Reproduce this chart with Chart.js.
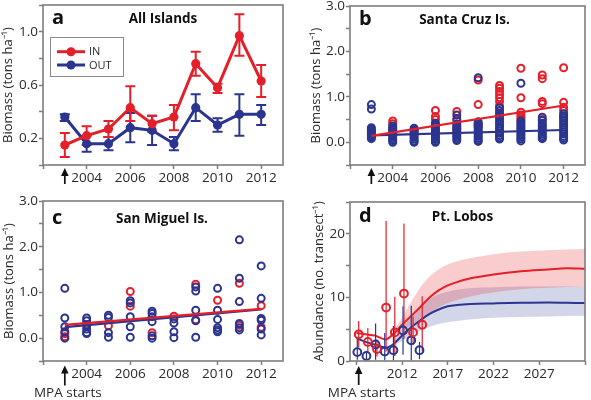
<!DOCTYPE html>
<html><head><meta charset="utf-8">
<script src="https://cdn.jsdelivr.net/npm/chart.js@4"></script>
<style>
html,body{margin:0;padding:0;background:#fff;}
#wrap{position:relative;width:591px;height:400px;overflow:hidden;background:#fff;}
canvas{position:absolute;}
</style></head><body>
<div id="wrap">
<canvas id="ca" width="295" height="195" style="left:0;top:0;width:295px;height:195px"></canvas>
<canvas id="cb" width="296" height="195" style="left:295px;top:0;width:296px;height:195px"></canvas>
<canvas id="cc" width="295" height="205" style="left:0;top:195px;width:295px;height:205px"></canvas>
<canvas id="cd" width="296" height="205" style="left:295px;top:195px;width:296px;height:205px"></canvas>
</div>
<script>
// ---------- DATA ----------
// Panel a: All Islands (mean ± error)
const yearsA = [2003, 2004, 2005, 2006, 2007, 2008, 2009, 2010, 2011, 2012];
const inA     = [0.15, 0.22, 0.27, 0.43, 0.31, 0.36, 0.76, 0.58, 0.97, 0.63];
const inALow  = [0.06, 0.15, 0.21, 0.33, 0.25, 0.26, 0.67, 0.54, 0.82, 0.51];
const inAHigh = [0.24, 0.29, 0.33, 0.59, 0.37, 0.45, 0.85, 0.61, 1.13, 0.75];
const outA     = [0.36, 0.16, 0.16, 0.28, 0.26, 0.16, 0.43, 0.30, 0.38, 0.38];
const outALow  = [0.33, 0.10, 0.11, 0.17, 0.15, 0.11, 0.33, 0.25, 0.22, 0.30];
const outAHigh = [0.38, 0.22, 0.21, 0.39, 0.37, 0.21, 0.53, 0.35, 0.53, 0.45];

// Panels b, c: survey years
const surveyYears = [2003, 2004, 2005, 2006, 2007, 2008, 2009, 2010, 2011, 2012];
// Panel b: Santa Cruz Is. site values per year
const scIn = [
  [0.22, 0.15],
  [0.47, 0.41, 0.30],
  [0.26, 0.20],
  [0.70, 0.57, 0.50, 0.40],
  [0.68, 0.48, 0.30],
  [1.37, 0.83, 0.40, 0.35],
  [1.25, 1.19, 1.12, 1.05, 0.98, 0.90, 0.80],
  [1.63, 0.98, 0.66, 0.60, 0.55, 0.50],
  [1.48, 1.40, 0.90, 0.85, 0.50],
  [1.64, 0.88, 0.77, 0.70, 0.55]
];
const scOut = [
  [0.83, 0.73, 0.32, 0.29, 0.26, 0.23, 0.20, 0.17, 0.14, 0.11, 0.08],
  [0.36, 0.32, 0.28, 0.24, 0.20, 0.16, 0.12, 0.08, 0.04, 0.00],
  [0.31, 0.27, 0.23, 0.19, 0.15, 0.11, 0.07, 0.03, 0.00],
  [0.42, 0.38, 0.34, 0.30, 0.26, 0.22, 0.18, 0.14, 0.10, 0.06, 0.02, 0.00],
  [0.60, 0.52, 0.40, 0.36, 0.32, 0.28, 0.24, 0.20, 0.16, 0.12, 0.08, 0.04],
  [1.42, 0.45, 0.41, 0.37, 0.33, 0.29, 0.25, 0.21, 0.17, 0.13, 0.09, 0.05, 0.02],
  [0.76, 0.70, 0.64, 0.58, 0.52, 0.46, 0.40, 0.35, 0.30, 0.25, 0.20, 0.15, 0.10, 0.07],
  [1.30, 0.47, 0.43, 0.39, 0.35, 0.31, 0.27, 0.23, 0.19, 0.15, 0.11, 0.07, 0.03],
  [0.55, 0.48, 0.42, 0.38, 0.34, 0.30, 0.26, 0.22, 0.18, 0.14, 0.10, 0.08],
  [0.63, 0.58, 0.53, 0.48, 0.43, 0.38, 0.33, 0.28, 0.23, 0.18, 0.13, 0.09, 0.05]
];
const fitYears = [2003, 2012];
const scInFit = [0.14, 0.81];
const scOutFit = [0.15, 0.27];

// Panel c: San Miguel Is.
const smIn = [
  [0.10, 0.03], [0.30], [0.27], [1.02, 0.70], [0.12],
  [0.48], [1.18, 0.40], [0.83], [1.20, 0.28], [0.71, 0.24]
];
const smOut = [
  [1.09, 0.44, 0.25, 0.14, 0.00],
  [0.44, 0.38, 0.28, 0.20, 0.12, 0.10],
  [0.50, 0.45, 0.12, 0.02],
  [0.82, 0.77, 0.47, 0.25, 0.02],
  [0.59, 0.54, 0.47, 0.36, 0.05, 0.00],
  [0.42, 0.33, 0.14, 0.01],
  [1.12, 1.03, 0.61, 0.38, 0.02],
  [1.09, 0.61, 0.41, 0.23, 0.18, 0.14],
  [2.15, 1.31, 0.80, 0.32, 0.23, 0.18],
  [1.58, 0.87, 0.43, 0.39, 0.20, 0.07]
];
const smInFit = [0.29, 0.64];
const smOutFit = [0.24, 0.63];

// Panel d: Pt. Lobos abundance
const lobosInYears  = [2007.25, 2008.25, 2009.25, 2010.25, 2011.2, 2012.2, 2013.2, 2014.2];
const lobosIn       = [4.2, 3.0, 1.9, 8.4, 4.5, 10.6, 4.5, 5.7];
const lobosInLow    = [2.2, 1.3, 0.7, 1.5, 0.8, 3.5, 2.5, 1.5];
const lobosInHigh   = [6.3, 5.2, 3.4, 22.0, 10.1, 21.6, 7.0, 10.2];
const lobosOutYears = [2007.1, 2008.1, 2009.1, 2010.1, 2011.05, 2012.1, 2013.0, 2013.9];
const lobosOut      = [1.4, 0.8, 2.6, 1.5, 1.7, 4.8, 3.25, 1.7];
const lobosOutLow   = [0.2, 0.2, 0.2, 0.1, 0.1, 1.0, 0.1, 0.3];
const lobosOutHigh  = [3.6, 1.6, 5.9, 4.4, 5.5, 8.6, 8.7, 3.0];
const modelYears = [2007, 2008, 2009, 2010.2, 2011, 2012, 2013, 2014, 2015, 2016, 2017, 2018, 2019.5, 2022, 2025, 2028, 2030, 2032];
const modelIn    = [4.4, 4.2, 4.0, 3.4, 4.2, 5.7, 7.1, 8.5, 10.0, 11.1, 11.9, 12.4, 13.0, 13.6, 14.1, 14.4, 14.6, 14.5];
const modelOut   = [3.6, 3.0, 2.6, 2.1, 2.6, 4.0, 5.3, 6.4, 7.4, 8.1, 8.6, 8.8, 8.95, 9.05, 9.15, 9.2, 9.15, 9.1];
const bandYears  = [2011, 2012, 2013, 2014, 2015, 2016, 2017, 2018, 2020, 2022, 2025, 2028, 2032];
const bandInHigh = [4.6, 6.8, 9.3, 11.6, 13.3, 14.4, 15.2, 15.7, 16.3, 16.8, 17.2, 17.4, 17.6];
const bandInLow  = [3.8, 4.8, 5.6, 6.6, 7.6, 8.4, 9.1, 9.6, 10.3, 10.8, 11.3, 11.5, 11.7];
const bandOutHigh= [3.0, 5.0, 7.0, 8.7, 9.8, 10.5, 10.9, 11.2, 11.5, 11.6, 11.7, 11.7, 11.7];
const bandOutLow = [2.2, 3.2, 4.0, 4.8, 5.4, 5.8, 6.1, 6.3, 6.6, 6.8, 6.9, 7.0, 7.1];

// Ticks
const ticksXab = [2002, 2004, 2006, 2008, 2010, 2012];
const labelsXab = [2004, 2006, 2008, 2010, 2012];
const ticksYa = [0, 0.2, 0.4, 0.6, 0.8, 1.0, 1.2];
const labelsYa = [0.2, 0.6, 1.0];
const ticksYbc = [-0.5, 0, 0.5, 1.0, 1.5, 2.0, 2.5, 3.0];
const labelsYbc = [0, 1, 2, 3];
const ticksXd = [2007, 2012, 2017, 2022, 2027, 2032];
const labelsXd = [2012, 2017, 2022, 2027];
const ticksYd = [0, 5, 10, 15, 20, 25];
const labelsYd = [0, 10, 20];
const mpaStartIslands = 2003;
const mpaStartLobos = 2007.25;

// ---------- STYLE ----------
const F = "'Open Sans', 'Liberation Sans', sans-serif";
const RED = '#e3202a';
const BLUE = '#2b3590';
const FRAME = '#7d7d7d';
const TXT = '#2a2a2a';

const xy = (xs, ys) => xs.map((x, i) => ({x, y: ys[i]}));
const flat = (years, nested) => years.flatMap((yr, i) => nested[i].map(v => ({x: yr, y: v})));
const near = (arr, v) => arr.some(a => Math.abs(a - v) < 1e-6);

function makeOptions(o) {
  return {
    responsive: false,
    animation: false,
    devicePixelRatio: window.devicePixelRatio || 1,
    layout: {padding: o.padding},
    plugins: {legend: {display: false}, tooltip: {enabled: false}, title: {display: false}},
    scales: {
      x: {
        type: 'linear', min: o.xMin, max: o.xMax,
        afterBuildTicks: s => { s.ticks = o.xTicks.map(v => ({value: v})); },
        afterFit: s => { s.height = o.xHeight; s.paddingLeft = 0; s.paddingRight = 0; },
        grid: {display: true, drawOnChartArea: false, drawTicks: true, tickLength: 4, tickColor: FRAME, tickWidth: 1.5},
        border: {display: false},
        ticks: {autoSkip: false, maxRotation: 0, padding: 1, color: TXT, font: {family: F, size: 13.5},
                callback: v => near(o.xLabels, v) ? String(Math.round(v)) : ''}
      },
      y: {
        type: 'linear', min: o.yMin, max: o.yMax,
        afterBuildTicks: s => { s.ticks = o.yTicks.map(v => ({value: v})); },
        afterFit: s => { s.width = o.yWidth; s.paddingTop = 0; s.paddingBottom = 0; },
        grid: {display: true, drawOnChartArea: false, drawTicks: true, tickLength: 4, tickColor: FRAME, tickWidth: 1.5},
        border: {display: false},
        title: {display: true, text: o.yTitle, color: TXT, font: {family: F, size: 13}, padding: 0},
        ticks: {autoSkip: false, padding: 1, color: TXT, font: {family: F, size: 13.5},
                callback: v => near(o.yLabels, v) ? v.toFixed(o.yDec) : ''}
      }
    }
  };
}

function framePlugin() {
  return {
    id: 'frame',
    afterDraw(chart) {
      const a = chart.chartArea, ctx = chart.ctx;
      ctx.save();
      ctx.strokeStyle = FRAME; ctx.lineWidth = 1.6;
      ctx.strokeRect(a.left, a.top, a.right - a.left, a.bottom - a.top);
      ctx.restore();
    }
  };
}

function labelPlugin(letter, title, dy, titleDx) {
  return {
    id: 'panelLabel',
    afterDraw(chart) {
      const a = chart.chartArea, ctx = chart.ctx;
      ctx.save();
      ctx.fillStyle = '#111';
      ctx.textBaseline = 'middle';
      ctx.textAlign = 'left';
      ctx.font = 'bold 20px ' + F;
      ctx.fillText(letter, a.left + 9, a.top + dy - 1);
      ctx.textAlign = 'center';
      ctx.font = 'bold 13.5px ' + F;
      ctx.fillText(title, (a.left + a.right) / 2 + titleDx, a.top + dy);
      ctx.restore();
    }
  };
}

function arrowPlugin(xVal, top, len, text) {
  return {
    id: 'mpaArrow',
    afterDraw(chart) {
      const ctx = chart.ctx, x = chart.scales.x.getPixelForValue(xVal), b = chart.chartArea.bottom;
      ctx.save();
      ctx.strokeStyle = '#111'; ctx.fillStyle = '#111'; ctx.lineWidth = 1.7;
      ctx.beginPath(); ctx.moveTo(x, b + top + 5); ctx.lineTo(x, b + top + len); ctx.stroke();
      ctx.beginPath(); ctx.moveTo(x, b + top); ctx.lineTo(x - 3.8, b + top + 8); ctx.lineTo(x + 3.8, b + top + 8); ctx.closePath(); ctx.fill();
      if (text) {
        ctx.font = '13.5px ' + F; ctx.textAlign = 'center'; ctx.textBaseline = 'middle'; ctx.fillStyle = TXT;
        ctx.fillText(text, x + 3, b + 32.5);
      }
      ctx.restore();
    }
  };
}

function errorBarPlugin(bars, beforeIndex) {
  return {
    id: 'errorBars',
    beforeDatasetDraw(chart, args) {
      if (args.index !== beforeIndex) return;
      const ctx = chart.ctx, sx = chart.scales.x, sy = chart.scales.y;
      ctx.save();
      bars.forEach(b => {
        ctx.strokeStyle = b.color; ctx.lineWidth = b.width;
        b.xs.forEach((xv, i) => {
          const x = sx.getPixelForValue(xv), y1 = sy.getPixelForValue(b.lo[i]), y2 = sy.getPixelForValue(b.hi[i]);
          ctx.beginPath(); ctx.moveTo(x, y1); ctx.lineTo(x, y2);
          if (b.cap) { ctx.moveTo(x - b.cap, y1); ctx.lineTo(x + b.cap, y1); ctx.moveTo(x - b.cap, y2); ctx.lineTo(x + b.cap, y2); }
          ctx.stroke();
        });
      });
      ctx.restore();
    }
  };
}

function legendPlugin() {
  return {
    id: 'insetLegend',
    afterDraw(chart) {
      const a = chart.chartArea, ctx = chart.ctx;
      const bx = a.left + 7, by = a.top + 32, bw = 73, bh = 39;
      ctx.save();
      ctx.fillStyle = '#fff'; ctx.fillRect(bx, by, bw, bh);
      ctx.strokeStyle = '#8a8a8a'; ctx.lineWidth = 1; ctx.strokeRect(bx + 0.5, by + 0.5, bw, bh);
      const items = chart.data.datasets.map(d => ({label: d.label, color: d.borderColor}));
      const rows = [14.7, 28];
      ['IN', 'OUT'].forEach((lab, k) => {
        const it = items.find(i => i.label === lab);
        const y = by + rows[k];
        ctx.strokeStyle = it.color; ctx.lineWidth = 3;
        ctx.beginPath(); ctx.moveTo(bx + 7, y); ctx.lineTo(bx + 35, y); ctx.stroke();
        ctx.fillStyle = it.color; ctx.beginPath(); ctx.arc(bx + 21, y, 4.5, 0, Math.PI * 2); ctx.fill();
        ctx.fillStyle = TXT; ctx.font = '11px ' + F; ctx.textAlign = 'left'; ctx.textBaseline = 'middle';
        ctx.fillText(it.label, bx + 39, y + 0.5);
      });
      ctx.restore();
    }
  };
}

// ---------- PANEL A ----------
new Chart(document.getElementById('ca'), {
  type: 'line',
  data: {
    datasets: [
      {label: 'IN', data: xy(yearsA, inA), borderColor: RED, backgroundColor: RED, borderWidth: 3,
       pointRadius: 4.6, pointBackgroundColor: RED, pointBorderWidth: 0, tension: 0, order: 0},
      {label: 'OUT', data: xy(yearsA, outA), borderColor: BLUE, backgroundColor: BLUE, borderWidth: 3,
       pointRadius: 4.6, pointBackgroundColor: BLUE, pointBorderWidth: 0, tension: 0, order: 1}
    ]
  },
  options: makeOptions({padding: {top: 5, right: 12, left: 0, bottom: 0},
    xMin: 2002, xMax: 2013, xTicks: ticksXab, xLabels: labelsXab, xHeight: 30,
    yMin: 0, yMax: 1.2, yTicks: ticksYa, yLabels: labelsYa, yDec: 1, yWidth: 43,
    yTitle: 'Biomass (tons ha⁻¹)'}),
  plugins: [
    errorBarPlugin([
      {xs: yearsA, lo: outALow, hi: outAHigh, color: BLUE, width: 2, cap: 5},
      {xs: yearsA, lo: inALow, hi: inAHigh, color: RED, width: 2, cap: 5}
    ], 1),
    framePlugin(), labelPlugin('a', 'All Islands', 14, 0), legendPlugin(),
    arrowPlugin(mpaStartIslands, 3, 16, null)
  ]
});

// ---------- PANELS B, C ----------
function scatterPanel(id, inVals, outVals, inFit, outFit, pad, xHeight, letter, title, dy, tdx, arrowTop, arrowLen, text) {
  new Chart(document.getElementById(id), {
    type: 'scatter',
    data: {
      datasets: [
        {label: 'IN fit', type: 'line', data: xy(fitYears, inFit), borderColor: RED, borderWidth: 2.2, pointRadius: 0, order: 0},
        {label: 'OUT fit', type: 'line', data: xy(fitYears, outFit), borderColor: BLUE, borderWidth: 2.2, pointRadius: 0, order: 1},
        {label: 'OUT', data: flat(surveyYears, outVals), borderColor: BLUE, pointBorderColor: BLUE,
         pointBackgroundColor: 'rgba(255,255,255,0)', pointRadius: 3.5, pointBorderWidth: 2, order: 2},
        {label: 'IN', data: flat(surveyYears, inVals), borderColor: RED, pointBorderColor: RED,
         pointBackgroundColor: 'rgba(255,255,255,0)', pointRadius: 3.5, pointBorderWidth: 2, order: 3}
      ]
    },
    options: makeOptions({padding: pad,
      xMin: 2002, xMax: 2013, xTicks: ticksXab, xLabels: labelsXab, xHeight: xHeight,
      yMin: -0.5, yMax: 3.0, yTicks: ticksYbc, yLabels: labelsYbc, yDec: 1, yWidth: 42,
      yTitle: 'Biomass (tons ha⁻¹)'}),
    plugins: [framePlugin(), labelPlugin(letter, title, dy, tdx), arrowPlugin(mpaStartIslands, arrowTop, arrowLen, text)]
  });
}
scatterPanel('cb', scIn, scOut, scInFit, scOutFit, {top: 5, right: 1, left: 13, bottom: 0}, 30, 'b', 'Santa Cruz Is.', 14.5, -3, 3, 16, null);
scatterPanel('cc', smIn, smOut, smInFit, smOutFit, {top: 5, right: 12, left: 1, bottom: 0}, 39, 'c', 'San Miguel Is.', 18, -1, 4.5, 20, 'MPA starts');

// ---------- PANEL D ----------
new Chart(document.getElementById('cd'), {
  type: 'scatter',
  data: {
    datasets: [
      {label: 'IN', data: xy(lobosInYears, lobosIn), borderColor: RED, pointBorderColor: RED,
       pointBackgroundColor: 'rgba(255,255,255,0)', pointRadius: 3.9, pointBorderWidth: 2, order: 0},
      {label: 'OUT', data: xy(lobosOutYears, lobosOut), borderColor: BLUE, pointBorderColor: BLUE,
       pointBackgroundColor: 'rgba(255,255,255,0)', pointRadius: 3.9, pointBorderWidth: 2, order: 1},
      {label: 'IN model', type: 'line', data: xy(modelYears, modelIn), borderColor: RED, borderWidth: 2,
       pointRadius: 0, cubicInterpolationMode: 'monotone', order: 2},
      {label: 'OUT model', type: 'line', data: xy(modelYears, modelOut), borderColor: BLUE, borderWidth: 2,
       pointRadius: 0, cubicInterpolationMode: 'monotone', order: 3},
      {label: 'IN band hi', type: 'line', data: xy(bandYears, bandInHigh), borderWidth: 0, borderColor: 'rgba(0,0,0,0)',
       backgroundColor: 'rgba(230,40,45,0.24)', fill: '+1', pointRadius: 0, cubicInterpolationMode: 'monotone', order: 4},
      {label: 'IN band lo', type: 'line', data: xy(bandYears, bandInLow), borderWidth: 0, borderColor: 'rgba(0,0,0,0)',
       fill: false, pointRadius: 0, cubicInterpolationMode: 'monotone', order: 5},
      {label: 'OUT band hi', type: 'line', data: xy(bandYears, bandOutHigh), borderWidth: 0, borderColor: 'rgba(0,0,0,0)',
       backgroundColor: 'rgba(45,60,150,0.21)', fill: '+1', pointRadius: 0, cubicInterpolationMode: 'monotone', order: 6},
      {label: 'OUT band lo', type: 'line', data: xy(bandYears, bandOutLow), borderWidth: 0, borderColor: 'rgba(0,0,0,0)',
       fill: false, pointRadius: 0, cubicInterpolationMode: 'monotone', order: 7}
    ]
  },
  options: makeOptions({padding: {top: 7, right: 1, left: 16, bottom: 0},
    xMin: 2006.3, xMax: 2032, xTicks: ticksXd, xLabels: labelsXd, xHeight: 39,
    yMin: 0, yMax: 25, yTicks: ticksYd, yLabels: labelsYd, yDec: 0, yWidth: 39,
    yTitle: 'Abundance (no. transect⁻¹)'}),
  plugins: [
    errorBarPlugin([
      {xs: lobosOutYears, lo: lobosOutLow, hi: lobosOutHigh, color: BLUE, width: 1.2, cap: 0},
      {xs: lobosInYears, lo: lobosInLow, hi: lobosInHigh, color: RED, width: 1.2, cap: 0}
    ], 1),
    framePlugin(), labelPlugin('d', 'Pt. Lobos', 15, -5), arrowPlugin(mpaStartLobos, 5, 19, 'MPA starts')
  ]
});
</script>
</body></html>
